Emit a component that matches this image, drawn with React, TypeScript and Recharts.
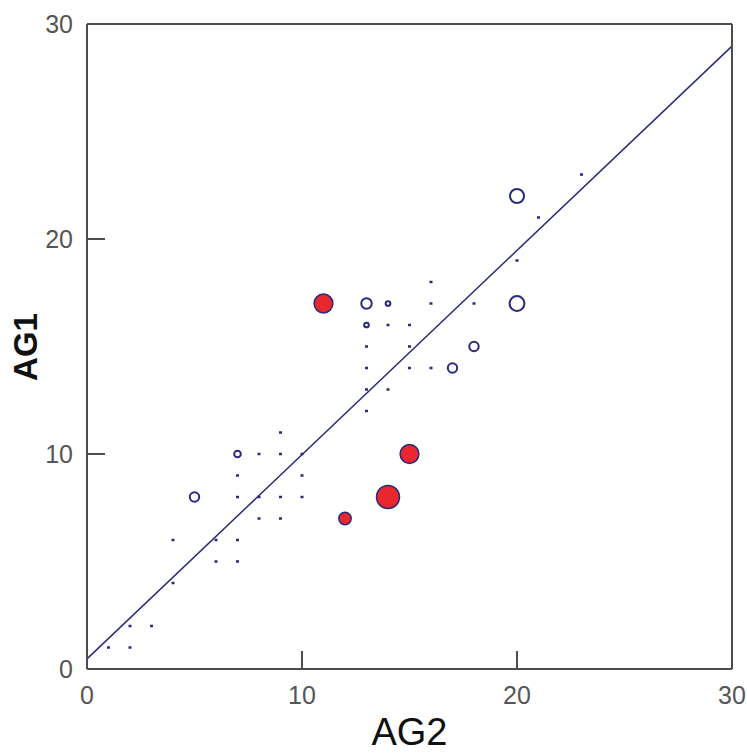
import React from 'react'
import {
  ScatterChart, Scatter, XAxis, YAxis, ZAxis, ReferenceLine,
} from 'recharts'

// single observations: [AG2, AG1]
const singles: Array<[number, number]> = [
  [1, 1], [2, 1], [2, 2], [3, 2], [4, 4], [4, 6], [6, 6], [6, 5],
  [7, 6], [7, 5], [7, 9], [7, 8], [8, 8], [8, 7], [8, 10],
  [9, 11], [9, 10], [9, 8], [9, 7], [10, 10], [10, 9], [10, 8],
  [14, 16], [15, 16], [13, 15], [15, 15], [13, 14], [15, 14], [16, 14],
  [13, 13], [14, 13], [13, 12], [16, 18], [16, 17], [18, 17],
  [20, 19], [21, 21], [23, 23],
]

// repeated observations: [AG2, AG1, count]
const repeated: Array<[number, number, number]> = [
  [13, 16, 1], [14, 17, 1], [7, 10, 2], [5, 8, 4], [18, 15, 4], [17, 14, 4],
  [13, 17, 5], [20, 22, 9], [20, 17, 10],
]

// highlighted group: [AG2, AG1, count]
const highlighted: Array<[number, number, number]> = [
  [12, 7, 7], [11, 17, 16], [15, 10, 16], [14, 8, 24],
]

const axisTicks = [0, 10, 20, 30]
const FIT_INTERCEPT = 0.47
const FIT_SLOPE = 0.95

const NAVY = '#2a2a7c'
const RED = '#e8282e'
const FRAME = '#4d4d4d'
const TICK_FONT = '"Liberation Sans Narrow", "Liberation Sans", Arial, sans-serif'
const LABEL_FONT = '"Liberation Sans", Arial, sans-serif'
const TICK_LEN = 18

const isInner = (v: number) => v !== 0 && v !== 30

const BottomTick = ({ x, y, payload }: any) => (
  <g>
    {isInner(payload.value) && <line x1={x} y1={y} x2={x} y2={y - TICK_LEN} stroke={FRAME} strokeWidth={2} />}
    <text x={x} y={y + 35} textAnchor="middle" fontFamily={TICK_FONT} fontSize={25} fill="#555">{payload.value}</text>
  </g>
)

const LeftTick = ({ x, y, payload }: any) => (
  <g>
    {isInner(payload.value) && <line x1={x} y1={y} x2={x + TICK_LEN} y2={y} stroke={FRAME} strokeWidth={2} />}
    <text x={x - 14} y={y + 9} textAnchor="end" fontFamily={TICK_FONT} fontSize={25} fill="#555">{payload.value}</text>
  </g>
)

const RightTick = ({ x, y, payload }: any) => (
  isInner(payload.value)
    ? <line x1={x} y1={y} x2={x - TICK_LEN} y2={y} stroke={FRAME} strokeWidth={2} />
    : <g />
)

const TopTick = ({ x, y, payload }: any) => (
  isInner(payload.value)
    ? <line x1={x} y1={y} x2={x} y2={y + TICK_LEN} stroke={FRAME} strokeWidth={2} />
    : <g />
)

const radiusOf = (p: any) => {
  if (typeof p.size === 'number') return Math.sqrt(Math.max(p.size, 0) / Math.PI)
  return (p.width || 4) / 2
}

const Mark = ({ cx, cy }: any) => (
  <rect x={cx - 1.5} y={cy - 1.25} width={3} height={2.5} fill={NAVY} />
)

const OpenBubble = (p: any) => (
  <circle cx={p.cx} cy={p.cy} r={radiusOf(p)} fill="#fff" stroke={NAVY} strokeWidth={2} />
)

const RedBubble = (p: any) => (
  <circle cx={p.cx} cy={p.cy} r={radiusOf(p)} fill={RED} stroke={NAVY} strokeWidth={1.5} />
)

const AG2Label = () => (
  <text x={409.5} y={745} textAnchor="middle"
    fontFamily={LABEL_FONT} fontSize={38} fill="#111">AG2</text>
)

const AG1Label = () => {
  const x = 37
  const y = 347
  return (
    <text x={x} y={y} textAnchor="middle" transform={`rotate(-90, ${x}, ${y})`}
      fontFamily={LABEL_FONT} fontSize={33} fontWeight="bold" fill="#111">AG1</text>
  )
}

export default function App() {
  const singleData = singles.map(([x, y]) => ({ x, y, n: 1 }))
  const repeatedData = repeated.map(([x, y, n]) => ({ x, y, n }))
  const highlightedData = highlighted.map(([x, y, n]) => ({ x, y, n }))

  return (
    <div style={{ position: 'absolute', left: 0, top: 0, width: 747, height: 754, background: '#fff' }}>
      <ScatterChart width={747} height={754} margin={{ top: 23, right: 14, bottom: 84, left: 86 }}>
        <XAxis type="number" dataKey="x" domain={[0, 30]} ticks={axisTicks} height={1}
          tickSize={0} tickMargin={0} tick={<BottomTick />} interval={0}
          axisLine={{ stroke: FRAME, strokeWidth: 2 }} label={<AG2Label />} />
        <XAxis xAxisId="top" orientation="top" type="number" dataKey="x" domain={[0, 30]} ticks={axisTicks} height={1}
          tickSize={0} tickMargin={0} tick={<TopTick />} interval={0}
          axisLine={{ stroke: FRAME, strokeWidth: 2 }} />
        <YAxis type="number" dataKey="y" domain={[0, 30]} ticks={axisTicks} width={1}
          tickSize={0} tickMargin={0} tick={<LeftTick />} interval={0}
          axisLine={{ stroke: FRAME, strokeWidth: 2 }} label={<AG1Label />} />
        <YAxis yAxisId="right" orientation="right" type="number" dataKey="y" domain={[0, 30]} ticks={axisTicks} width={1}
          tickSize={0} tickMargin={0} tick={<RightTick />} interval={0}
          axisLine={{ stroke: FRAME, strokeWidth: 2 }} />
        <ZAxis type="number" dataKey="n" domain={[0, 24]} range={[0, 415]} />
        <ReferenceLine
          segment={[{ x: 0, y: FIT_INTERCEPT }, { x: 30, y: FIT_INTERCEPT + FIT_SLOPE * 30 }]}
          stroke={NAVY} strokeWidth={1.5} ifOverflow="visible"
        />
        <Scatter data={singleData} shape={<Mark />} isAnimationActive={false} />
        <Scatter data={repeatedData} shape={<OpenBubble />} isAnimationActive={false} />
        <Scatter data={highlightedData} shape={<RedBubble />} isAnimationActive={false} />
      </ScatterChart>
    </div>
  )
}
